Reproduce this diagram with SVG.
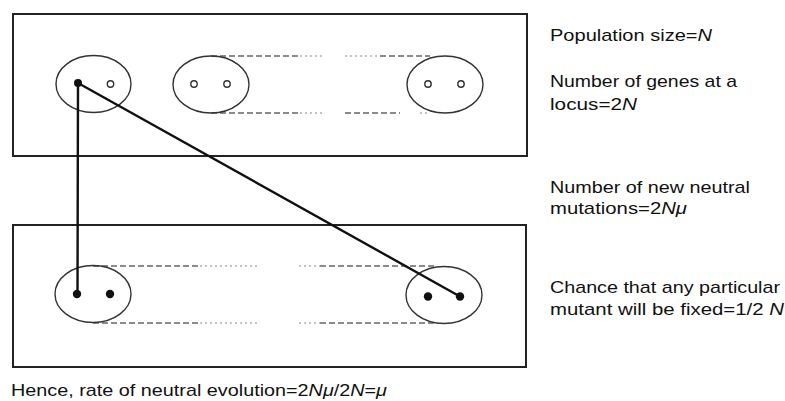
<svg xmlns="http://www.w3.org/2000/svg" width="785" height="401" viewBox="0 0 785 401">
<style>
.box{fill:none;stroke:#222;stroke-width:2}
.cell{fill:none;stroke:#333;stroke-width:1.4}
.dash{stroke:#666;stroke-width:1.3;stroke-dasharray:6,3;fill:none}
.dot{stroke:#888;stroke-width:1.2;stroke-dasharray:2,3;fill:none}
.gene{fill:#fff;stroke:#333;stroke-width:1.4}
.mut{fill:#111}
.link{stroke:#111;stroke-width:2.4;fill:none;stroke-linecap:round}
text{font-family:"Liberation Sans",Arial,sans-serif;font-size:17px;fill:#111}
.i{font-style:italic}
</style>
<rect width="785" height="401" fill="#fff"/>
<g id="population-top">
  <rect class="box" x="13" y="14" width="514" height="142"/>
  <path class="dash" d="M211 56H300M211 113H300M345 113H400M380 56H430"/>
  <path class="dot" d="M300 56H324M300 113H324M345 56H380M420 113H430"/>
</g>
<g id="individual-top-1">
  <ellipse class="cell" cx="93.5" cy="84" rx="37.5" ry="28.5"/>
  <circle class="mut" cx="78" cy="83" r="4"/>
  <circle class="gene" cx="110.5" cy="84" r="3.2"/>
</g>
<g id="individual-top-2">
  <ellipse class="cell" cx="211" cy="84.5" rx="38" ry="28.5"/>
  <circle class="gene" cx="194" cy="84" r="3.2"/>
  <circle class="gene" cx="227" cy="84" r="3.2"/>
</g>
<g id="individual-top-n">
  <ellipse class="cell" cx="445" cy="84.5" rx="38" ry="28.5"/>
  <circle class="gene" cx="428" cy="84" r="3.2"/>
  <circle class="gene" cx="461" cy="84" r="3.2"/>
</g>
<g id="population-bottom">
  <rect class="box" x="13" y="225" width="513" height="142"/>
  <path class="dash" d="M93 266H200M93 323H200M320 266H436M320 323H436"/>
  <path class="dot" d="M200 266H257M200 323H257M299 266H320M299 323H320"/>
</g>
<g id="individual-bottom-1">
  <ellipse class="cell" cx="93" cy="294" rx="38" ry="28.5"/>
  <circle class="mut" cx="77" cy="294" r="4.2"/>
  <circle class="mut" cx="110" cy="294" r="4.2"/>
</g>
<g id="individual-bottom-n">
  <ellipse class="cell" cx="444" cy="295" rx="38" ry="28.5"/>
  <circle class="mut" cx="428" cy="296.5" r="4.2"/>
  <circle class="mut" cx="460" cy="296.5" r="4.2"/>
</g>
<g id="connectors">
  <path class="link" d="M78 83L77.5 294"/>
  <path class="link" d="M78 83L460 296.5"/>
</g>
<g id="labels">
  <text x="550" y="41" textLength="162" lengthAdjust="spacingAndGlyphs">Population size=<tspan class="i">N</tspan></text>
  <text x="550" y="87" textLength="187" lengthAdjust="spacingAndGlyphs">Number of genes at a</text>
  <text x="550" y="110" textLength="87" lengthAdjust="spacingAndGlyphs">locus=2<tspan class="i">N</tspan></text>
  <text x="550" y="193" textLength="200" lengthAdjust="spacingAndGlyphs">Number of new neutral</text>
  <text x="550" y="214" textLength="137" lengthAdjust="spacingAndGlyphs">mutations=2<tspan class="i">Nμ</tspan></text>
  <text x="550" y="293" textLength="230" lengthAdjust="spacingAndGlyphs">Chance that any particular</text>
  <text x="550" y="315" textLength="234" lengthAdjust="spacingAndGlyphs">mutant will be fixed=1/2 <tspan class="i">N</tspan></text>
  <text x="11" y="396" textLength="376" lengthAdjust="spacingAndGlyphs">Hence, rate of neutral evolution=2<tspan class="i">Nμ</tspan>/2<tspan class="i">N</tspan>=<tspan class="i">μ</tspan></text>
</g>
</svg>
